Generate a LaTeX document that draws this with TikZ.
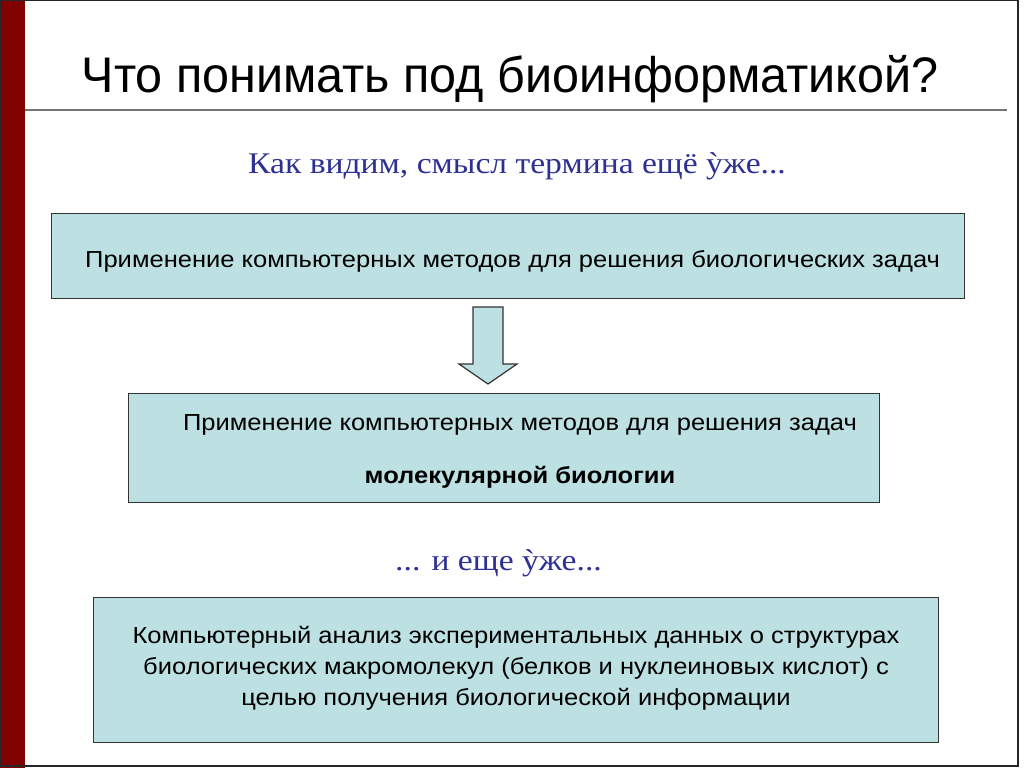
\documentclass[tikz,border=0pt]{standalone}
\usepackage{fontspec}
\setmainfont{Liberation Sans}
\newfontfamily\bodyf[FakeStretch=1.1]{Liberation Sans}
\newfontfamily\titlef[FakeStretch=0.97]{Liberation Sans}
\newfontfamily\serifx[FakeStretch=1.12]{Liberation Serif}
\definecolor{boxfill}{RGB}{189,224,227}
\definecolor{bar}{RGB}{128,0,0}
\definecolor{subblue}{RGB}{46,49,146}
\begin{document}
\begin{tikzpicture}[x=1pt,y=-1pt,
  panel/.style={draw=black!80,line width=1pt,fill=boxfill},
  bodytext/.style={font=\bodyf\fontsize{23.2}{27}\selectfont,inner sep=0pt,anchor=base},
  subtext/.style={font=\serifx\fontsize{30}{34}\selectfont,text=subblue,inner sep=0pt,anchor=base}]
\useasboundingbox (0,0) rectangle (1024,768);
\fill[white] (0,0) rectangle (1024,768);
\fill[bar] (0,0) rectangle (25,768);
\draw[black!85,line width=1.5pt] (0.75,0.75) rectangle (1018,766);
\draw[black!55,line width=1.5pt] (25,110) -- (1007,110);
\node[font=\titlef\fontsize{50}{58}\selectfont,inner sep=0pt,anchor=base] (title) at (510,92) {Что понимать под биоинформатикой?};
\node[subtext] (sub1) at (517,173) {Как видим, смысл термина ещё ỳже...};
% box 1
\path[panel] (51,213) rectangle (964,298);
\node[bodytext,anchor=base west] (t1) at (85,267) {Применение компьютерных методов для решения биологических задач};
% arrow
\path[panel,line width=1.2pt] (473,307) -- (503,307) -- (503,364) -- (517,364) -- (488,384) -- (459,364) -- (473,364) -- cycle;
% box 2
\path[panel] (128,393) rectangle (879,502);
\node[bodytext] (t2a) at (520,430) {Применение компьютерных методов для решения задач};
\node[bodytext,font=\bodyf\bfseries\fontsize{23.2}{27}\selectfont] (t2b) at (520,483) {молекулярной биологии};
\node[subtext] (sub2) at (498.5,570) {... и еще ỳже...};
% box 3
\path[panel] (93,597) rectangle (938,742);
\node[bodytext] (t3a) at (516,643) {Компьютерный анализ экспериментальных данных о структурах};
\node[bodytext] (t3b) at (516,674) {биологических макромолекул (белков и нуклеиновых кислот) с};
\node[bodytext] (t3c) at (516,705) {целью получения биологической информации};
\end{tikzpicture}
\end{document}
